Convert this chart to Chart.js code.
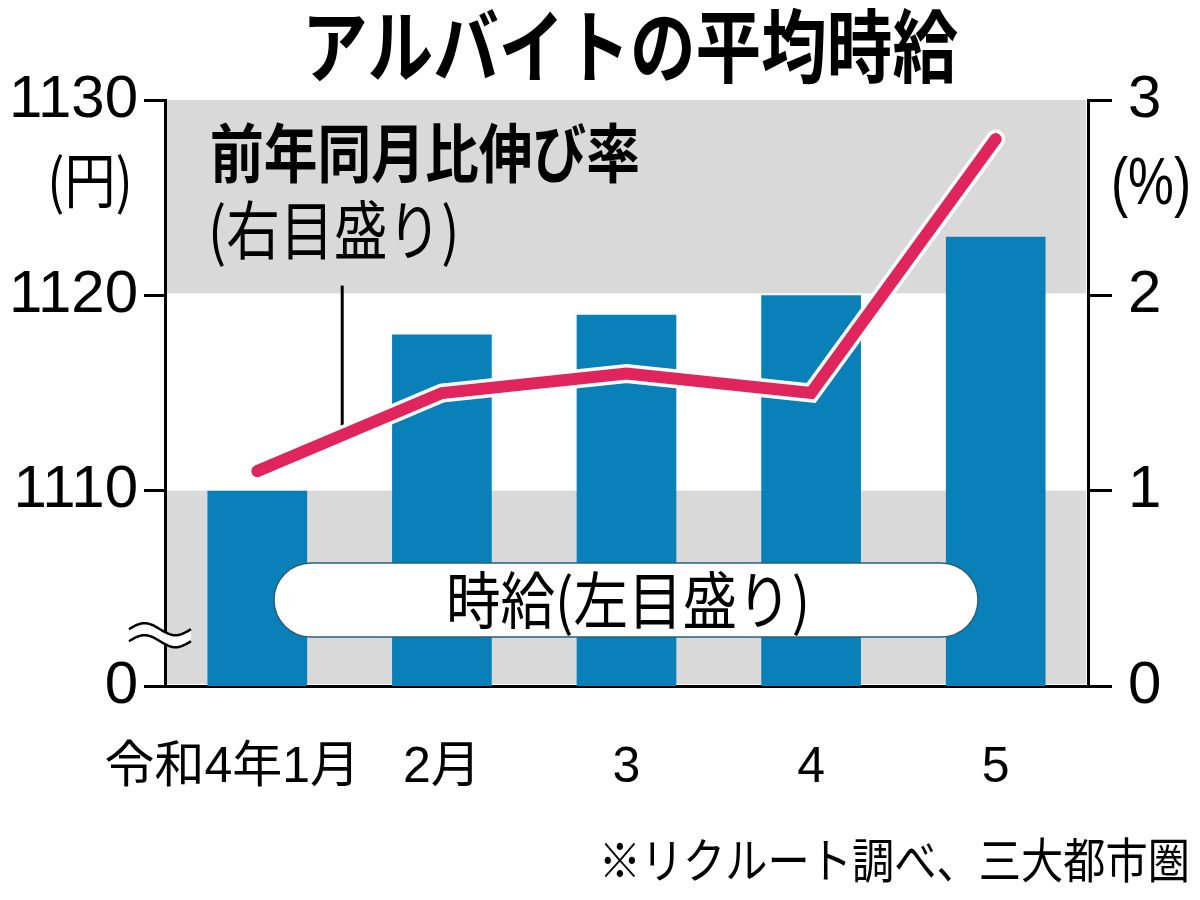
<!DOCTYPE html>
<html lang="ja">
<head>
<meta charset="utf-8">
<title>アルバイトの平均時給</title>
<script src="https://cdn.jsdelivr.net/npm/chart.js@4.4.1/dist/chart.umd.min.js"></script>
<style>
  body { margin: 0; background: #fff; }
  #wrap { width: 1200px; height: 900px; }
</style>
</head>
<body>
<div id="wrap"><canvas id="wageChart" width="1200" height="900"></canvas></div>
<script>
// data
var months = ["令和4年1月", "2月", "3", "4", "5"];
var hourlyWage = [1110, 1118, 1119, 1120, 1123];   // 円, left axis
var growthRate = [1.1, 1.5, 1.6, 1.5, 2.8];        // %, right axis
var wageTicks = [1100, 1110, 1120, 1130];
var wageTickLabels = ["0", "1110", "1120", "1130"];
var rateTicks = [0, 1, 2, 3];
var grayBands = [[1100, 1110], [1120, 1130]];

var JP = "'Noto Sans CJK JP', sans-serif";
var NUM = "'Liberation Sans', 'Noto Sans CJK JP', sans-serif";
var BLUE = "#0a80b9";
var PINK = "#e0255d";
var GRAY = "#d9d9d9";

function squeezeText(ctx, text, x, y, font, align, sx) {
  ctx.save();
  ctx.font = font;
  ctx.textAlign = align;
  ctx.textBaseline = "middle";
  ctx.fillStyle = "#000";
  ctx.translate(x, y);
  ctx.scale(sx, 1);
  ctx.fillText(text, 0, 0);
  ctx.restore();
}

var decorations = {
  id: "decorations",
  beforeDatasetsDraw(chart) {
    var ctx = chart.ctx;
    var area = chart.chartArea;
    var yL = chart.scales.yL;
    var yR = chart.scales.yR;
    var x = chart.scales.x;
    ctx.save();
    ctx.fillStyle = GRAY;
    grayBands.forEach((b) => {
      var top = yL.getPixelForValue(b[1]);
      var bottom = yL.getPixelForValue(b[0]);
      ctx.fillRect(area.left + 2, top, area.right - area.left - 4, bottom - top - 2);
    });
    // leader line from the label down to the rate line
    var pos = 0.46;
    var lx = x.getPixelForValue(pos);
    var rate = growthRate[0] + pos * (growthRate[1] - growthRate[0]);
    ctx.strokeStyle = "#000";
    ctx.lineWidth = 3;
    ctx.beginPath();
    ctx.moveTo(lx, yR.getPixelForValue(2.05));
    ctx.lineTo(lx, yR.getPixelForValue(rate));
    ctx.stroke();
    ctx.restore();
  },
  afterDatasetsDraw(chart) {
    var ctx = chart.ctx;
    // pill label for the bars
    var l = 274, r = 978, t = 563, b = 637, rad = (b - t) / 2;
    ctx.save();
    ctx.fillStyle = "#fff";
    ctx.strokeStyle = "#2a5f7a";
    ctx.lineWidth = 1.5;
    ctx.beginPath();
    ctx.moveTo(l + rad, t);
    ctx.lineTo(r - rad, t);
    ctx.arc(r - rad, t + rad, rad, -Math.PI / 2, Math.PI / 2);
    ctx.lineTo(l + rad, b);
    ctx.arc(l + rad, t + rad, rad, Math.PI / 2, Math.PI * 1.5);
    ctx.closePath();
    ctx.fill();
    ctx.stroke();
    ctx.restore();
    squeezeText(ctx, "時給(左目盛り)", 628, 600, "62px " + JP, "center", 0.88);
  },
  afterDraw(chart) {
    var ctx = chart.ctx;
    var area = chart.chartArea;
    var yL = chart.scales.yL;

    squeezeText(ctx, "アルバイトの平均時給", 630, 46, "bold 80px " + JP, "center", 0.82);
    squeezeText(ctx, "前年同月比伸び率", 210, 153, "bold 64px " + JP, "left", 0.84);
    squeezeText(ctx, "(右目盛り)", 208, 230, "64px " + JP, "left", 0.84);
    squeezeText(ctx, "(円)", 90, 180, "60px " + JP, "center", 0.85);
    squeezeText(ctx, "(%)", 1151, 186, "66px " + NUM, "center", 0.78);
    squeezeText(ctx, "※リクルート調べ、三大都市圏", 1190, 860, "48px " + JP, "right", 0.88);

    // axis break mark
    var cx = area.left - 5;
    var cy = yL.getPixelForValue(1102.6);
    var w = 62, amp = 6, gap = 12;
    function wave(off) {
      var pts = [];
      for (var i = 0; i <= 40; i++) {
        var tt = i / 40;
        pts.push([cx - w / 2 + tt * w, cy + off - amp * Math.sin(2 * Math.PI * tt)]);
      }
      return pts;
    }
    var up = wave(-gap / 2), down = wave(gap / 2);
    ctx.save();
    ctx.fillStyle = "#fff";
    ctx.beginPath();
    up.forEach((p, i) => (i ? ctx.lineTo(p[0], p[1]) : ctx.moveTo(p[0], p[1])));
    down.slice().reverse().forEach((p) => ctx.lineTo(p[0], p[1]));
    ctx.closePath();
    ctx.fill();
    ctx.strokeStyle = "#000";
    ctx.lineWidth = 2.5;
    [up, down].forEach((pts) => {
      ctx.beginPath();
      pts.forEach((p, i) => (i ? ctx.lineTo(p[0], p[1]) : ctx.moveTo(p[0], p[1])));
      ctx.stroke();
    });
    ctx.restore();
  },
};

function plotChart(idCanvas) {
  const ctx = document.getElementById(idCanvas).getContext("2d");
  let chart = new Chart(ctx, {
    type: "bar",
    data: {
      labels: months,
      datasets: [
        {
          type: "line",
          label: "前年同月比伸び率",
          data: growthRate,
          yAxisID: "yR",
          borderColor: PINK,
          borderWidth: 12,
          borderCapStyle: "round",
          borderJoinStyle: "miter",
          pointRadius: 0,
          tension: 0,
          order: 1,
        },
        {
          type: "line",
          label: "outline",
          data: growthRate,
          yAxisID: "yR",
          borderColor: "#fff",
          borderWidth: 19,
          borderCapStyle: "round",
          borderJoinStyle: "miter",
          pointRadius: 0,
          tension: 0,
          order: 2,
        },
        {
          label: "時給",
          data: hourlyWage,
          yAxisID: "yL",
          backgroundColor: BLUE,
          borderWidth: 0,
          barPercentage: 0.54,
          categoryPercentage: 1,
          order: 3,
        },
      ],
    },
    options: {
      responsive: false,
      animation: false,
      devicePixelRatio: 1,
      layout: { padding: { top: 100, left: 0, right: 0, bottom: 0 } },
      plugins: { legend: { display: false }, tooltip: { enabled: false }, title: { display: false } },
      scales: {
        x: {
          offset: true,
          grid: { display: false },
          border: { display: true, color: "#000", width: 3 },
          ticks: {
            color: "#000",
            font: { family: NUM, size: 50 },
            padding: 44,
            maxRotation: 0,
            autoSkip: false,
            // first label is wider; a trailing ideographic space nudges it left like the original
            callback: (v, i) => (i === 0 ? months[i] + "\u3000" : months[i]),
          },
          afterFit(scale) { scale.height = 214; },
        },
        yL: {
          position: "left",
          min: 1100,
          max: 1130,
          afterBuildTicks(scale) { scale.ticks = wageTicks.map((v) => ({ value: v })); },
          grid: { drawOnChartArea: false, drawTicks: true, tickLength: 21, color: "#000", lineWidth: 3 },
          border: { display: true, color: "#000", width: 3 },
          ticks: {
            color: "#000",
            font: { family: NUM, size: 60 },
            padding: 6,
            callback: (v, i) => wageTickLabels[i],
          },
          afterFit(scale) { scale.width = 165; },
        },
        yR: {
          position: "right",
          min: 0,
          max: 3,
          afterBuildTicks(scale) { scale.ticks = rateTicks.map((v) => ({ value: v })); },
          grid: { drawOnChartArea: false, drawTicks: true, tickLength: 24, color: "#000", lineWidth: 3 },
          border: { display: true, color: "#000", width: 3 },
          ticks: { color: "#000", font: { family: NUM, size: 60 }, padding: 16 },
          afterFit(scale) { scale.width = 112; },
        },
      },
    },
    plugins: [decorations],
  });
  return chart;
}

plotChart("wageChart");
</script>
</body>
</html>
